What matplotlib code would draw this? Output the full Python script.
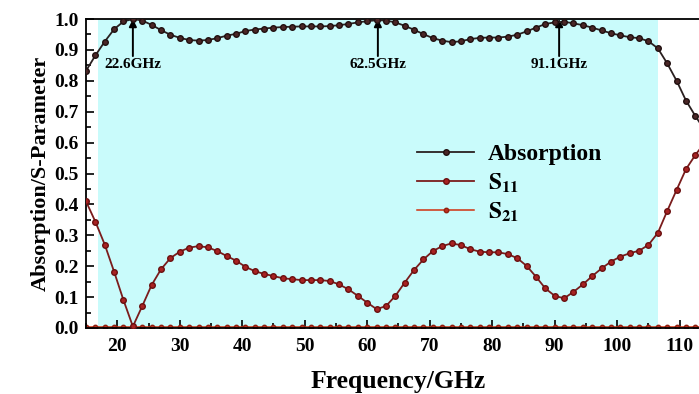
import matplotlib
matplotlib.use("Agg")
import matplotlib.pyplot as plt
from matplotlib.ticker import MultipleLocator

plt.rcParams['font.family'] = ['Liberation Serif', 'DejaVu Serif']
plt.rcParams['font.weight'] = 'bold'
plt.rcParams['mathtext.fontset'] = 'stix'

freq = [15.0, 16.5, 18.0, 19.5, 21.0, 22.5, 24.0, 25.5, 27.0, 28.5,
        30.0, 31.5, 33.0, 34.5, 36.0, 37.5, 39.0, 40.5, 42.0, 43.5,
        45.0, 46.5, 48.0, 49.5, 51.0, 52.5, 54.0, 55.5, 57.0, 58.5,
        60.0, 61.5, 63.0, 64.5, 66.0, 67.5, 69.0, 70.5, 72.0, 73.5,
        75.0, 76.5, 78.0, 79.5, 81.0, 82.5, 84.0, 85.5, 87.0, 88.5,
        90.0, 91.5, 93.0, 94.5, 96.0, 97.5, 99.0, 100.5, 102.0, 103.5,
        105.0, 106.5, 108.0, 109.5, 111.0, 112.5, 114.0]

absorption = [0.832, 0.882, 0.927, 0.967, 0.992, 1.000, 0.995, 0.981, 0.964, 0.949,
              0.939, 0.932, 0.930, 0.932, 0.938, 0.946, 0.952, 0.961, 0.966, 0.969,
              0.972, 0.974, 0.975, 0.976, 0.976, 0.976, 0.977, 0.980, 0.984, 0.989,
              0.993, 0.996, 0.995, 0.989, 0.978, 0.965, 0.951, 0.938, 0.930, 0.925,
              0.928, 0.935, 0.939, 0.940, 0.940, 0.943, 0.949, 0.960, 0.972, 0.984,
              0.989, 0.991, 0.986, 0.980, 0.972, 0.963, 0.954, 0.947, 0.941, 0.938,
              0.928, 0.905, 0.856, 0.800, 0.736, 0.686, 0.640]

s11 = [0.410, 0.344, 0.270, 0.182, 0.090, 0.005, 0.071, 0.139, 0.190, 0.226,
       0.247, 0.260, 0.265, 0.261, 0.249, 0.233, 0.218, 0.198, 0.184, 0.175,
       0.168, 0.161, 0.158, 0.155, 0.155, 0.155, 0.152, 0.141, 0.125, 0.104,
       0.082, 0.061, 0.071, 0.104, 0.147, 0.188, 0.222, 0.249, 0.265, 0.274,
       0.268, 0.255, 0.247, 0.245, 0.245, 0.239, 0.226, 0.201, 0.166, 0.128,
       0.104, 0.096, 0.117, 0.141, 0.168, 0.193, 0.215, 0.231, 0.242, 0.250,
       0.269, 0.308, 0.379, 0.447, 0.514, 0.560, 0.600]

s21 = [0.002, 0.002, 0.002, 0.002, 0.002, 0.002, 0.002, 0.002, 0.002, 0.002,
       0.002, 0.002, 0.002, 0.002, 0.002, 0.002, 0.002, 0.002, 0.002, 0.002,
       0.002, 0.002, 0.002, 0.002, 0.002, 0.002, 0.002, 0.002, 0.002, 0.002,
       0.002, 0.002, 0.002, 0.002, 0.002, 0.002, 0.002, 0.002, 0.002, 0.002,
       0.002, 0.002, 0.002, 0.002, 0.002, 0.002, 0.002, 0.002, 0.002, 0.002,
       0.002, 0.002, 0.002, 0.002, 0.002, 0.002, 0.002, 0.002, 0.002, 0.002,
       0.002, 0.002, 0.002, 0.002, 0.002, 0.002, 0.002]

peak_labels = ['22.6GHz', '62.5GHz', '91.1GHz']
peak_x = [22.5, 61.7, 90.7]
band = [16.9, 106.5]

fig = plt.figure(figsize=(6.99, 3.94), dpi=100)
ax = fig.add_axes([86/699, 66/394, 625/699, 309/394])

ax.axvspan(band[0], band[1], color='#c9fbfb', zorder=0, lw=0)

ax.plot(freq, s21, '-o', color='#d03010', lw=1.1, ms=3.2,
        mfc='#c03020', mec='#902010', label=r'$\mathbf{S}_{\mathbf{21}}$', zorder=2)
ax.plot(freq, s11, '-o', color='#7a1c1c', lw=1.3, ms=4,
        mfc='#a82222', mec='#6a1010', label=r'$\mathbf{S}_{\mathbf{11}}$', zorder=3)
ax.plot(freq, absorption, '-o', color='#2a2020', lw=1.3, ms=4,
        mfc='#4a2626', mec='#201010', label='Absorption', zorder=4)

for lab, px in zip(peak_labels, peak_x):
    ax.annotate('', xy=(px, 1.0), xytext=(px, 0.88),
                arrowprops=dict(arrowstyle='-|>', color='black', lw=1.4,
                                mutation_scale=11, shrinkA=0, shrinkB=0))
    ax.text(px, 0.852, lab, ha='center', va='center', fontsize=11,
            fontweight='bold')

ax.set_xlim(15, 115)
ax.set_ylim(0, 1.0)
ax.xaxis.set_major_locator(MultipleLocator(10))
ax.xaxis.set_minor_locator(MultipleLocator(5))
ax.yaxis.set_major_locator(MultipleLocator(0.1))
ax.yaxis.set_minor_locator(MultipleLocator(0.05))
ax.set_yticks([i / 10 for i in range(11)])
ax.set_yticklabels(['%.1f' % (i / 10) for i in range(11)])
ax.tick_params(which='both', direction='in', labelsize=14, width=1.2)
ax.tick_params(which='major', length=6)
ax.tick_params(which='minor', length=3.5)
ax.tick_params(axis='x', pad=7)
ax.tick_params(axis='y', pad=5)
for lab in ax.get_xticklabels() + ax.get_yticklabels():
    lab.set_fontweight('bold')
for sp in ax.spines.values():
    sp.set_linewidth(1.3)

ax.set_xlabel('Frequency/GHz', fontsize=18.5, fontweight='bold', labelpad=11)
ax.set_ylabel('Absorption/S-Parameter', fontsize=16, fontweight='bold', labelpad=3)

handles, labels = ax.get_legend_handles_labels()
leg = ax.legend(handles[::-1], labels[::-1], loc='upper left',
                bbox_to_anchor=(0.597, 0.635), bbox_transform=fig.transFigure,
                frameon=False, handlelength=2.4, handletextpad=0.6,
                labelspacing=0.25, borderpad=0, borderaxespad=0,
                prop={'weight': 'bold', 'size': 17})

fig.savefig('out.png', dpi=100)
